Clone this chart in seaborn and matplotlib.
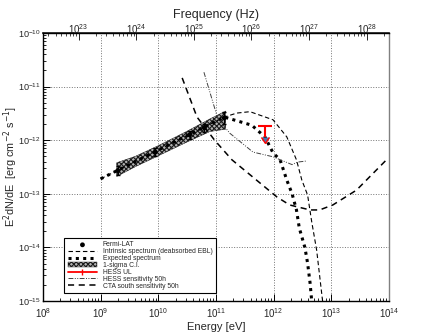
import numpy as np
import pandas as pd
import matplotlib
matplotlib.use("Agg")
import matplotlib.pyplot as plt
from matplotlib.lines import Line2D
import seaborn as sns

# Data
# -------------------------------
# Fermi-LAT points
fermi_E = [2.0e9, 8.9e9, 3.5e10, 6.3e10, 1.4e11]
fermi_F = [2.7e-13, 6.0e-13, 1.26e-12, 1.7e-12, 2.6e-12]
fermi_err_lo = [0.5e-13, 0.9e-13, 2.0e-13, 2.5e-13, 0.6e-12]
fermi_err_hi = [0.6e-13, 1.0e-13, 2.5e-13, 3.0e-13, 0.8e-12]

# 1-sigma butterfly
band_E = [1.9e9, 4.0e9, 1.0e10, 3.2e10, 7.9e10, 1.48e11]
band_hi = [3.8e-13, 5.0e-13, 7.9e-13, 1.48e-12, 2.5e-12, 3.5e-12]
band_lo = [2.1e-13, 3.2e-13, 5.1e-13, 9.3e-13, 1.45e-12, 1.6e-12]

# intrinsic (deabsorbed) spectrum
intr_E = [1.0e9, 1.4e11, 2.3e11, 3.9e11, 9.8e11, 1.7e12, 2.5e12, 3.1e12,
          3.9e12, 4.6e12, 5.6e12, 7.1e12]
intr_F = [1.9e-13, 2.7e-12, 3.2e-12, 3.4e-12, 2.4e-12, 1.15e-12, 4.3e-13,
          1.8e-13, 9.5e-14, 3.0e-14, 8.9e-15, 1.0e-15]

# expected (EBL absorbed) spectrum
exp_E = [1.0e9, 1.4e11, 4.2e11, 7.1e11, 9.8e11, 1.3e12, 1.7e12, 2.1e12,
         2.5e12, 2.8e12, 3.5e12, 3.9e12, 4.3e12, 4.6e12]
exp_F = [1.9e-13, 2.7e-12, 1.9e-12, 1.15e-12, 5.8e-13, 4.3e-13, 1.8e-13,
         1.0e-13, 5.0e-14, 2.3e-14, 1.0e-14, 5.1e-15, 2.2e-15, 1.0e-15]

# HESS upper limit
hess_ul_E = [7.1e11]
hess_ul_F = [1.8e-12]
hess_ul_xerr = [[1.7e11], [2.2e11]]
hess_ul_yerr = [0.65e-12]

# HESS sensitivity 50h
hess_E = [6.2e10, 1.07e11, 1.74e11, 4.4e11, 9.8e11, 2.1e12, 2.6e12, 3.8e12]
hess_F = [1.85e-11, 2.6e-12, 1.35e-12, 6.0e-13, 4.9e-13, 3.5e-13, 3.9e-13, 4.1e-13]

# CTA south sensitivity 50h
cta_E = [2.6e10, 4.7e10, 9.5e10, 1.9e11, 1.15e12, 1.9e12, 4.3e12, 6.3e12,
         1.07e13, 2.75e13, 9.1e13]
cta_F = [1.45e-11, 2.7e-12, 1.0e-12, 4.3e-13, 8.7e-14, 6.2e-14, 5.0e-14,
         5.0e-14, 6.2e-14, 1.17e-13, 4.3e-13]

# Style
# -------------------------------
sns.set_theme(style="ticks")
plt.rcParams["font.family"] = ["Liberation Sans", "DejaVu Sans"]
plt.rcParams["hatch.linewidth"] = 0.8

fig = plt.figure(figsize=(4.32, 3.36), dpi=100)
ax = fig.add_axes([0.0995, 0.104, 0.8005, 0.798])
ax.set_xscale("log")
ax.set_yscale("log")

# Plot
# -------------------------------
band = ax.fill_between(band_E, band_lo, band_hi, facecolor="0.7",
                       edgecolor="0.1", hatch="xxxxxxx", lw=0.3, zorder=3,
                       label="1-sigma C.I.")

sns.lineplot(x=intr_E, y=intr_F, ax=ax, color="black", lw=0.8,
             linestyle=(0, (4, 2.5)), zorder=4)
l_intr = ax.lines[-1]
sns.lineplot(x=exp_E, y=exp_F, ax=ax, color="black", lw=2.2,
             linestyle=(0, (1, 1.4)), zorder=4)
l_exp = ax.lines[-1]
sns.lineplot(x=hess_E, y=hess_F, ax=ax, color="0.25", lw=0.7,
             linestyle=(0, (5, 1.5, 1, 1.5, 1, 1.5)), zorder=4)
l_hess = ax.lines[-1]
sns.lineplot(x=cta_E, y=cta_F, ax=ax, color="black", lw=1.1,
             linestyle=(0, (4, 3)), zorder=4)
l_cta = ax.lines[-1]

ax.errorbar(fermi_E, fermi_F, yerr=[fermi_err_lo, fermi_err_hi], fmt="none",
            ecolor="black", elinewidth=0.8, capsize=1.5, zorder=5)
sns.scatterplot(x=fermi_E, y=fermi_F, ax=ax, color="black", s=12,
                edgecolor="none", zorder=6)
p_fermi = ax.collections[-1]

ax.errorbar(hess_ul_E, hess_ul_F, xerr=hess_ul_xerr, yerr=hess_ul_yerr,
            uplims=True, fmt="none", ecolor="red", elinewidth=1.5,
            capsize=0, zorder=7)
ul = Line2D([], [], color="red", lw=1.3, marker="|", markersize=5,
            markeredgewidth=1.0)

# Axes
# -------------------------------
ax.set_xlim(1e8, 1e14)
ax.set_ylim(1e-15, 1e-10)
ax.grid(True, which="major", ls=":", lw=0.7, color="0.45")
ax.tick_params(which="both", direction="in", top=False, right=False,
               labelsize=7, color="black")
ax.tick_params(axis="y", pad=1.5, labelsize=6.6)
ax.tick_params(axis="x", pad=4)
ax.tick_params(which="major", length=5, width=0.7)
ax.tick_params(which="minor", length=2.5, width=0.6)
ax.xaxis.set_minor_locator(matplotlib.ticker.LogLocator(base=10, subs=np.arange(2, 10), numticks=20))
ax.yaxis.set_minor_locator(matplotlib.ticker.LogLocator(base=10, subs=np.arange(2, 10), numticks=20))
for s in ax.spines.values():
    s.set_linewidth(1.0)
    s.set_color("black")
ax.spines["right"].set_color("0.5")

ax.set_xlabel("Energy [eV]", fontsize=8, labelpad=1)
ax.set_ylabel("E$^{2}$dN/dE  [erg cm$^{-2}$ s$^{-1}$]", fontsize=7.8)
ax.yaxis.set_label_coords(-0.066, 0.5)

h_eV = 4.1357e-15
sec = ax.secondary_xaxis("top", functions=(lambda e: e / h_eV, lambda f: f * h_eV))
sec.tick_params(which="both", direction="in", labelsize=7, pad=-2)
sec.tick_params(which="major", length=5, width=0.7)
sec.tick_params(which="minor", length=2.5, width=0.6)
sec.set_xlabel("Frequency (Hz)", fontsize=9, labelpad=2.5)

# Legend
# -------------------------------
handles = [p_fermi, l_intr, l_exp, band, ul, l_hess, l_cta]
labels = ["Fermi-LAT", "Intrinsic spectrum (deabsorbed EBL)", "Expected spectrum",
          "1-sigma C.I.", "HESS UL", "HESS sensitivity 50h",
          "CTA south sensitivity 50h"]
leg = ax.legend(handles, labels, loc="lower left", bbox_to_anchor=(0.062, 0.03),
                fontsize=4.9, frameon=True, fancybox=False, edgecolor="black",
                framealpha=1, handlelength=4.3, handleheight=0.6,
                labelspacing=-0.02, borderpad=0.5, handletextpad=0.8,
                borderaxespad=0)
leg.get_frame().set_linewidth(0.8)

fig.savefig("out.png", dpi=100)
